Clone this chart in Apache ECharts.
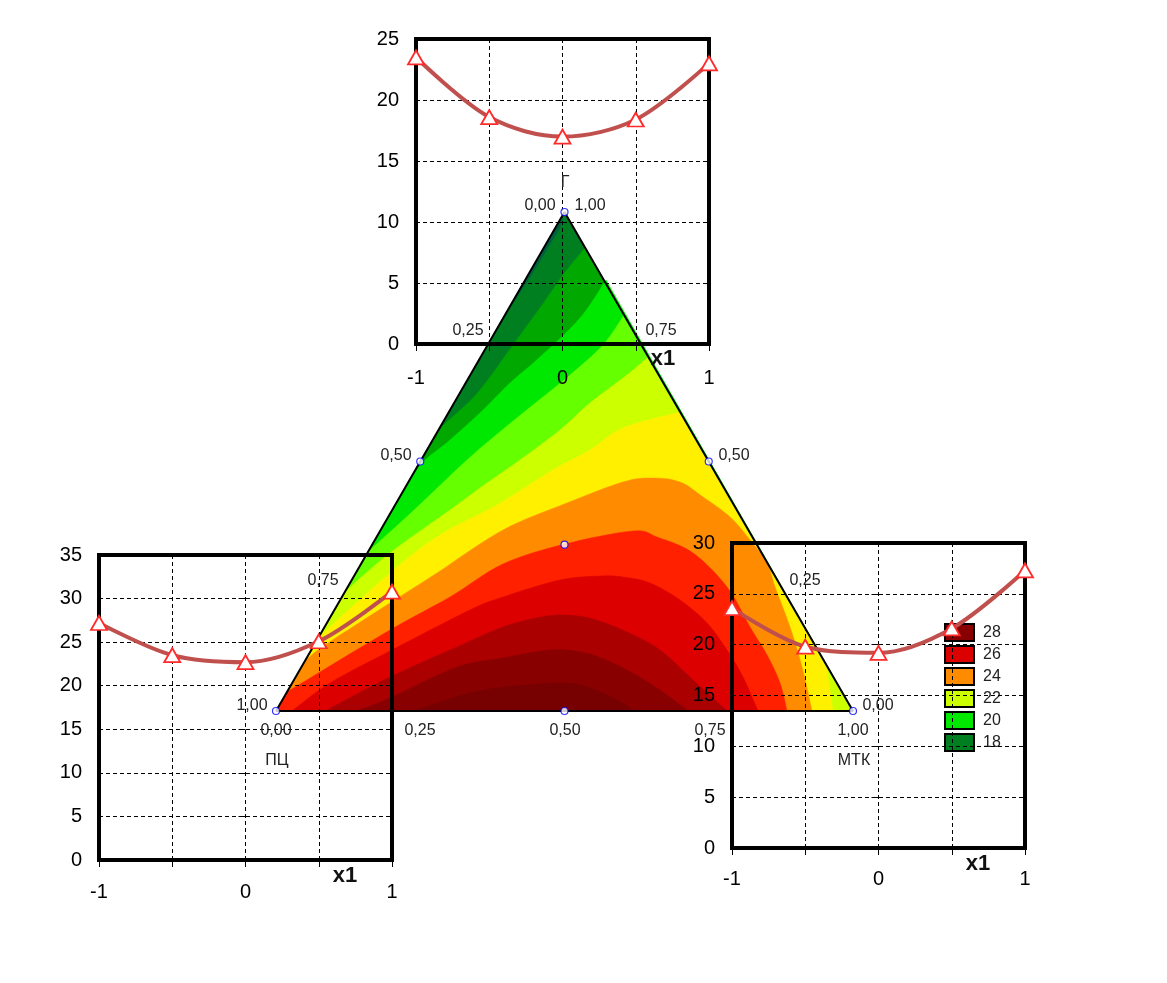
<!DOCTYPE html>
<html><head><meta charset="utf-8">
<style>html,body{margin:0;padding:0;background:#fff}#c{width:1167px;height:983px}</style>
<script src="https://cdn.jsdelivr.net/npm/echarts@6/dist/echarts.min.js"></script>
</head><body><div id="c"></div>
<script>
// x1 response curves of the three insets
const x1Ticks = [-1, -0.5, 0, 0.5, 1];
const topValues = [23.5, 18.6, 17.0, 18.4, 23.0];
const leftValues = [27.2, 23.5, 22.7, 25.1, 30.8];
const rightValues = [23.6, 19.8, 19.2, 21.6, 27.3];

// Contour regions of the triangle, in triangle units (side 577, height 499).
// A third element 1 marks a sharp corner on the triangle's outline.
const band17 = [[288.5,499,1],[0,0,1],[577,0,1]];
const band18 = [[288,497],[284,483],[274,466],[257,438],[244,418],[234,403],[0,0,1],[577,0,1]];
const band19 = [[165,283],[171,289],[197,313],[217,338],[237,366],[264,403],[287,436],[309,463],[577,0,1],[0,0,1]];
const band20 = [[132,228],[147,249],[174,271],[207,301],[234,328],[264,354],[304,393],[330,431],[577,0,1],[0,0,1]];
const band21 = [[94,161],[137,200],[191,251],[231,285],[262,310],[294,336],[327,366],[348,396],[577,0,1],[0,0,1]];
const band22 = [[71,121],[114,158],[174,201],[211,228],[244,251],[284,281],[314,308],[351,336],[372,354],[577,0,1],[0,0,1]];
const band23 = [[43,74],[114,138],[164,176],[221,206],[277,241],[314,261],[347,283],[404,299],[550,46,1],[557,0,1],[0,0,1]];
const band24 = [[30,51],[49,66],[114,108],[161,138],[227,181],[291,208],[347,229],[376,233],[404,229],[427,214],[454,194],[474,171],[491,148],[499,124],[514,84],[526,44],[536,0],[0,0,1]];
const band25 = [[11,19],[114,81],[174,114],[227,147],[289,167],[357,180],[381,174],[417,158],[451,124],[474,84],[491,56],[504,28],[511,0],[0,0,1]];
const band26 = [[16,0],[54,28],[114,60],[194,101],[227,114],[284,131],[324,135],[347,134],[374,128],[404,111],[431,88],[451,61],[467,34],[482,0]];
const band27 = [[49,0],[114,34],[181,64],[227,84],[265,94],[289,96],[317,92],[351,79],[384,61],[417,31],[451,0]];
const band28 = [[81,0],[114,13],[181,44],[227,53],[265,60],[289,61],[317,56],[351,41],[384,21],[412,0]];
const band29 = [[137,0],[194,18],[240,25],[289,28],[317,22],[341,11],[359,0]];

const bandLevels = ['17','18','19','20','21','22','23','24','25','26','27','28','29'];
const bandShapes = [band17,band18,band19,band20,band21,band22,band23,band24,band25,band26,band27,band28,band29];
const bandColors = ['#00603f','#007f20','#00a800','#00e800','#66ff00','#ccff00','#fff000','#ff8c00','#ff2000','#dd0000','#aa0000','#880000','#770000'];
const legendLevels = ['28','26','24','22','20','18'];

const triangleEdge = [[0,0],[288.5,499],[577,0],[0,0]];
const triangleNodes = [[0,0],[577,0],[288.5,499],[144.25,249.5],[432.75,249.5],[288.5,0],[288.5,166.3]];

const textLabels = [
  ['Г',565,183],['0,00',540,206],['1,00',590,206],['0,25',468,331],['0,75',661,331],
  ['0,50',396,456],['0,50',734,456],['0,75',323,581],['0,25',805,581],
  ['1,00',252,706],['0,00',878,706],['0,00',276,731],['0,25',420,731],['0,50',565,731],['0,75',710,731],['1,00',853,731],
  ['ПЦ',277,761],['МТК',854,761]
];
const axisTitles = [['x1',663,359],['x1',345,876],['x1',978,864]];

const FONT = '"Liberation Sans", Arial, sans-serif';
const panels = [
  {left:416, top:39,  max:25, values:topValues,   margin:24},
  {left:99,  top:555, max:35, values:leftValues,  margin:22},
  {left:732, top:543, max:30, values:rightValues, margin:21}
];

// draws a contour outline: runs between corners are rounded in screen space
function outline(raw, api) {
  const pts = raw.map(p => api.coord(p));
  const out = [];
  let run = [];
  const flush = () => {
    for (let i = 0; i < run.length - 1; i++) {
      const p0 = run[Math.max(i-1,0)], p1 = run[i], p2 = run[i+1], p3 = run[Math.min(i+2,run.length-1)];
      for (let s = 0; s < 8; s++) {
        const t = s/8, t2 = t*t, t3 = t2*t;
        out.push([0,1].map(d => 0.5*((2*p1[d]) + (-p0[d]+p2[d])*t + (2*p0[d]-5*p1[d]+4*p2[d]-p3[d])*t2 + (-p0[d]+3*p1[d]-3*p2[d]+p3[d])*t3)));
      }
    }
    if (run.length) out.push(run[run.length-1]);
    run = [];
  };
  raw.forEach((p, i) => {
    if (p[2]) { flush(); out.push(pts[i]); }
    else run.push(pts[i]);
  });
  flush();
  return out;
}

const grids = [{left:276, top:212, width:577, height:499, show:false}];
const xAxes = [{type:'value', gridIndex:0, min:0, max:577, show:false}];
const yAxes = [{type:'value', gridIndex:0, min:0, max:499, show:false}];
const series = [];

bandShapes.forEach((pts, i) => {
  series.push({
    type:'custom', name:bandLevels[i], xAxisIndex:0, yAxisIndex:0, z:1, silent:true,
    clip:false, animation:false,
    itemStyle:{color:bandColors[i]},
    data:[pts[0].slice(0,2)],
    encode:{x:0,y:1},
    renderItem:(params, api) => ({
      type:'polygon',
      shape:{points:outline(pts, api)},
      style:{fill:bandColors[i], stroke:bandColors[i], lineWidth:0.5}
    })
  });
});
series.push({type:'line', xAxisIndex:0, yAxisIndex:0, z:2, data:triangleEdge, showSymbol:false, silent:true,
  lineStyle:{color:'#000', width:2}, animation:false, clip:false});
series.push({type:'scatter', xAxisIndex:0, yAxisIndex:0, z:6, data:triangleNodes, symbol:'circle', symbolSize:7, silent:true,
  itemStyle:{color:'#fff', borderColor:'#0000ff', borderWidth:1.2}, animation:false, clip:false});

panels.forEach((p, k) => {
  const g = k + 1;
  grids.push({left:p.left, top:p.top, width:293, height:305, show:true, z:4,
    backgroundColor:'transparent', borderColor:'#000', borderWidth:4});
  const line = {show:true, lineStyle:{color:'#000', width:1, type:[4,3]}};
  xAxes.push({type:'value', gridIndex:g, min:-1, max:1, interval:0.5, z:3,
    axisLine:{show:false}, axisTick:{show:true, length:7, lineStyle:{color:'#000', width:1}},
    axisLabel:{margin:p.margin, fontSize:20, fontFamily:FONT, color:'#000', hideOverlap:false,
      showMinLabel:true, showMaxLabel:true,
      formatter:v => Number.isInteger(v) ? String(v) : ''},
    splitLine:line});
  yAxes.push({type:'value', gridIndex:g, min:0, max:p.max, interval:5, z:3,
    axisLine:{show:false}, axisTick:{show:true, length:7, lineStyle:{color:'#000', width:1}},
    axisLabel:{margin:17, fontSize:20, fontFamily:FONT, color:'#000', showMinLabel:true, showMaxLabel:true, padding:[2,0,0,0]},
    splitLine:line});
  series.push({type:'line', xAxisIndex:g, yAxisIndex:g, z:7, smooth:0.33, clip:false, animation:false,
    data:x1Ticks.map((x,i) => [x, p.values[i]]),
    symbol:'triangle', symbolSize:[16,14], showAllSymbol:true,
    lineStyle:{color:'#c0504d', width:4},
    itemStyle:{color:'#fff', borderColor:'#ff2a2a', borderWidth:1.8}});
});

const graphics = textLabels.map(t => ({type:'text', x:t[1], y:t[2], z:10, silent:true,
  style:{text:t[0], font:'16px '+FONT, fill:'#222', textAlign:'center', textVerticalAlign:'middle'}}))
 .concat(axisTitles.map(t => ({type:'text', x:t[1], y:t[2], z:10, silent:true,
  style:{text:t[0], font:'bold 22px '+FONT, fill:'#111', textAlign:'center', textVerticalAlign:'middle'}})));

const chart = echarts.init(document.getElementById('c'), null, {renderer:'canvas', width:1167, height:983});
chart.setOption({
  animation:false,
  backgroundColor:'#fff',
  legend:{show:true, data:legendLevels.map(n => ({name:n, icon:'rect'})), orient:'vertical', left:939, top:618, z:1,
    itemWidth:29, itemHeight:17, itemGap:3, selectedMode:false,
    itemStyle:{borderColor:'#000', borderWidth:2},
    textStyle:{fontFamily:FONT, fontSize:16, color:'#222', padding:[0,0,0,4]}},
  grid:grids, xAxis:xAxes, yAxis:yAxes, series:series, graphic:{elements:graphics}
});
</script></body></html>
